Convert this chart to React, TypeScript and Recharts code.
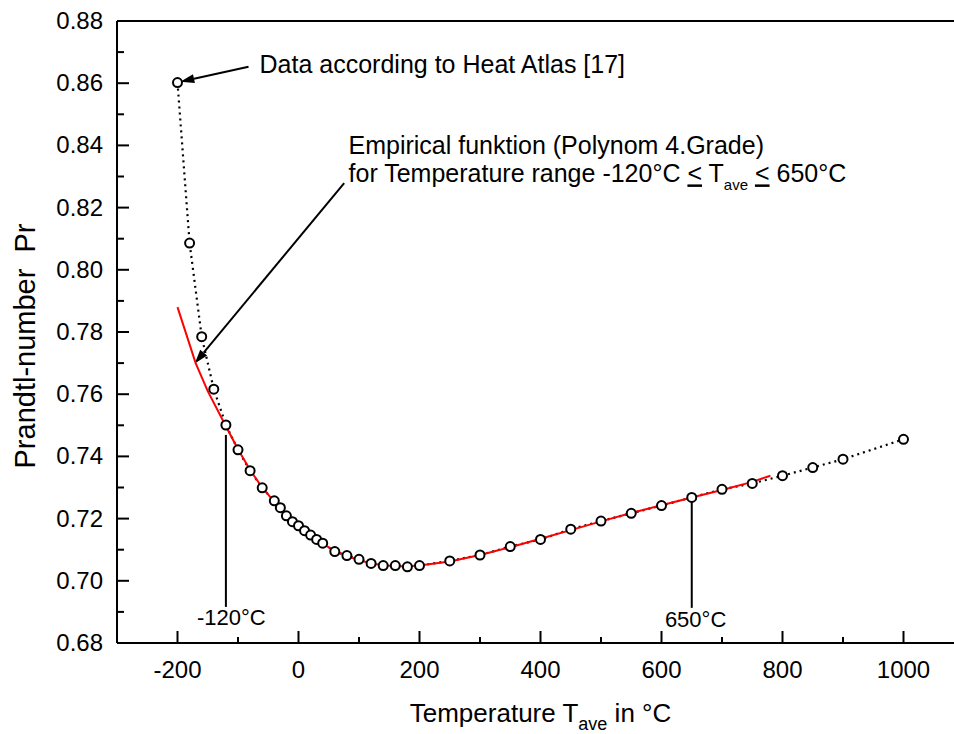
import React from 'react';
import { LineChart, Line, XAxis, YAxis, ReferenceLine, ReferenceDot } from 'recharts';

// Heat Atlas values (air)
const atlasT = [-200, -180, -160, -140, -120, -100, -80, -60, -40, -30, -20, -10, 0, 10, 20, 30, 40, 60, 80, 100, 120, 140, 160, 180, 200, 250, 300, 350, 400, 450, 500, 550, 600, 650, 700, 750, 800, 850, 900, 1000];
const atlasPr = [0.8602, 0.8086, 0.7785, 0.7616, 0.7501, 0.7421, 0.7354, 0.7299, 0.7257, 0.7235, 0.7209, 0.719, 0.7177, 0.7161, 0.7147, 0.7133, 0.7121, 0.7094, 0.7081, 0.7069, 0.7056, 0.7049, 0.7049, 0.7045, 0.7049, 0.7064, 0.7083, 0.711, 0.7133, 0.7166, 0.7192, 0.7217, 0.7242, 0.7268, 0.7294, 0.7313, 0.7338, 0.7364, 0.7391, 0.7455];

// empirical polynomial, as drawn
const fitT = [-200, -170, -150, -120, -100, -80, -60, -40, -20, 0, 20, 40, 60, 80, 100, 120, 140, 160, 180, 200, 250, 300, 350, 400, 450, 500, 550, 600, 650, 700, 750, 780];
const fitPr = [0.788, 0.77, 0.761, 0.7497, 0.7423, 0.7356, 0.73, 0.7254, 0.721, 0.7175, 0.7145, 0.7119, 0.7097, 0.708, 0.7066, 0.7056, 0.705, 0.7047, 0.7047, 0.7049, 0.7062, 0.7083, 0.7108, 0.7135, 0.7163, 0.7191, 0.7218, 0.7243, 0.7268, 0.7292, 0.7318, 0.7338];

const xTicks = [-300, -200, -100, 0, 100, 200, 300, 400, 500, 600, 700, 800, 900, 1000, 1100];
const yTicks = [0.68, 0.69, 0.7, 0.71, 0.72, 0.73, 0.74, 0.75, 0.76, 0.77, 0.78, 0.79, 0.8, 0.81, 0.82, 0.83, 0.84, 0.85, 0.86, 0.87, 0.88];

const atlasData = atlasT.map((t, i) => ({ t, pr: atlasPr[i] }));
const fitData = fitT.map((t, i) => ({ t, pr: fitPr[i] }));

const FONT = '"Liberation Sans", Arial, sans-serif';

function XTick(p: any) {
  const v = p.payload.value;
  const major = v % 200 === 0;
  return (
    <g>
      <line x1={p.x} y1={p.y} x2={p.x} y2={p.y - (major ? 12 : 6)} stroke="#000" strokeWidth={2} />
      {major && v > -300 && v < 1100 && (
        <text x={p.x} y={p.y + 35} textAnchor="middle" fontSize={24} fill="#000">{v}</text>
      )}
    </g>
  );
}

function TopTick(p: any) {
  return <line x1={p.x} y1={p.y} x2={p.x} y2={p.y + 3} stroke="#000" strokeWidth={1.5} />;
}

function YTick(p: any) {
  const v = p.payload.value;
  const major = Math.round(v * 100) % 2 === 0;
  return (
    <g>
      <line x1={p.x} y1={p.y} x2={p.x + (major ? 12 : 7)} y2={p.y} stroke="#000" strokeWidth={2} />
      {major && (
        <text x={p.x - 14} y={p.y + 8} textAnchor="end" fontSize={24} fill="#000">{v.toFixed(2)}</text>
      )}
    </g>
  );
}

function XTitle(props: any) {
  const vb = props.viewBox || {};
  return (
    <text x={vb.x + vb.width / 2} y={vb.y + 79} textAnchor="middle" fontSize={26} fill="#000">
      Temperature T<tspan fontSize={18} dy={8}>ave</tspan><tspan dy={-8}> in °C</tspan>
    </text>
  );
}

function YTitle(props: any) {
  const vb = props.viewBox || {};
  const cx = 35;
  const cy = vb.y + vb.height / 2 + 14;
  return (
    <text x={cx} y={cy} textAnchor="middle" fontSize={29} fill="#000" transform={`rotate(-90, ${cx}, ${cy})`}>
      {'Prandtl-number\u00A0 Pr'}
    </text>
  );
}

function Arrow(p: any) {
  const { x1, y1, x2, y2 } = p;
  const a = Math.atan2(y2 - y1, x2 - x1);
  const L = 14;
  const W = 4.5;
  const bx = x2 - L * Math.cos(a);
  const by = y2 - L * Math.sin(a);
  const pts = `${x2},${y2} ${bx + W * Math.sin(a)},${by - W * Math.cos(a)} ${bx - W * Math.sin(a)},${by + W * Math.cos(a)}`;
  return (
    <g>
      <line x1={x1} y1={y1} x2={bx} y2={by} stroke="#000" strokeWidth={2} />
      <polygon points={pts} fill="#000" />
    </g>
  );
}

const label = (content: React.ReactNode, size = 25) => (p: any) => (
  <text x={p.cx} y={p.cy} fontSize={size} fill="#000">{content}</text>
);

export default function App() {
  return (
    <div style={{ position: 'absolute', left: 0, top: 0, width: 954, height: 734, overflow: 'hidden', background: '#fff' }}>
      <LineChart width={1000} height={734} margin={{ top: 20, right: 36, bottom: 0, left: 0 }} style={{ fontFamily: FONT }}>
        <XAxis
          type="number"
          dataKey="t"
          domain={[-300, 1100]}
          ticks={xTicks}
          interval={0}
          allowDataOverflow
          height={91}
          tickLine={false}
          tickSize={0}
          tickMargin={0}
          axisLine={{ stroke: '#000', strokeWidth: 2 }}
          tick={(p: any) => <XTick {...p} />}
          label={<XTitle />}
        />
        <XAxis
          xAxisId="top"
          orientation="top"
          type="number"
          dataKey="t"
          domain={[-300, 1100]}
          ticks={xTicks}
          interval={0}
          height={1}
          tickLine={false}
          tickSize={0}
          tickMargin={0}
          axisLine={{ stroke: '#000', strokeWidth: 2 }}
          tick={(p: any) => <TopTick {...p} />}
        />
        <YAxis
          type="number"
          domain={[0.68, 0.88]}
          ticks={yTicks}
          interval={0}
          allowDataOverflow
          width={117}
          tickLine={false}
          tickSize={0}
          tickMargin={0}
          axisLine={{ stroke: '#000', strokeWidth: 2 }}
          tick={(p: any) => <YTick {...p} />}
          label={<YTitle />}
        />

        <ReferenceLine segment={[{ x: -120, y: 0.7469 }, { x: -120, y: 0.6916 }]} stroke="#000" strokeWidth={2} />
        <ReferenceLine segment={[{ x: 650, y: 0.727 }, { x: 650, y: 0.6913 }]} stroke="#000" strokeWidth={2} />
        <ReferenceLine segment={[{ x: -82.6, y: 0.8653 }, { x: -195.4, y: 0.8605 }]} shape={(p: any) => <Arrow {...p} />} />
        <ReferenceLine segment={[{ x: 75.5, y: 0.8279 }, { x: -171.5, y: 0.7699 }]} shape={(p: any) => <Arrow {...p} />} />

        <ReferenceDot x={-64.4} y={0.8634} shape={label('Data according to Heat Atlas [17]')} />
        <ReferenceDot x={82.7} y={0.8372} shape={label('Empirical funktion (Polynom 4.Grade)')} />
        <ReferenceDot
          x={82.7}
          y={0.8281}
          shape={label(
            <>
              for Temperature range -120°C <tspan textDecoration="underline">&lt;</tspan> T
              <tspan fontSize={15} dy={8}>ave</tspan>
              <tspan dy={-8}> </tspan>
              <tspan textDecoration="underline">&lt;</tspan> 650°C
            </>
          )}
        />
        <ReferenceDot x={-167.8} y={0.6858} shape={label('-120°C', 22)} />
        <ReferenceDot x={605.6} y={0.6852} shape={label('650°C', 22)} />

        <Line
          data={atlasData}
          dataKey="pr"
          stroke="#000"
          strokeWidth={2.2}
          strokeDasharray="2 4"
          dot={{ r: 4.5, stroke: '#000', strokeWidth: 2, fill: '#fff', strokeDasharray: 'none' }}
          activeDot={false}
          isAnimationActive={false}
        />
        <Line
          data={fitData}
          dataKey="pr"
          stroke="#ff0000"
          strokeWidth={2}
          dot={false}
          activeDot={false}
          isAnimationActive={false}
        />
      </LineChart>
    </div>
  );
}
